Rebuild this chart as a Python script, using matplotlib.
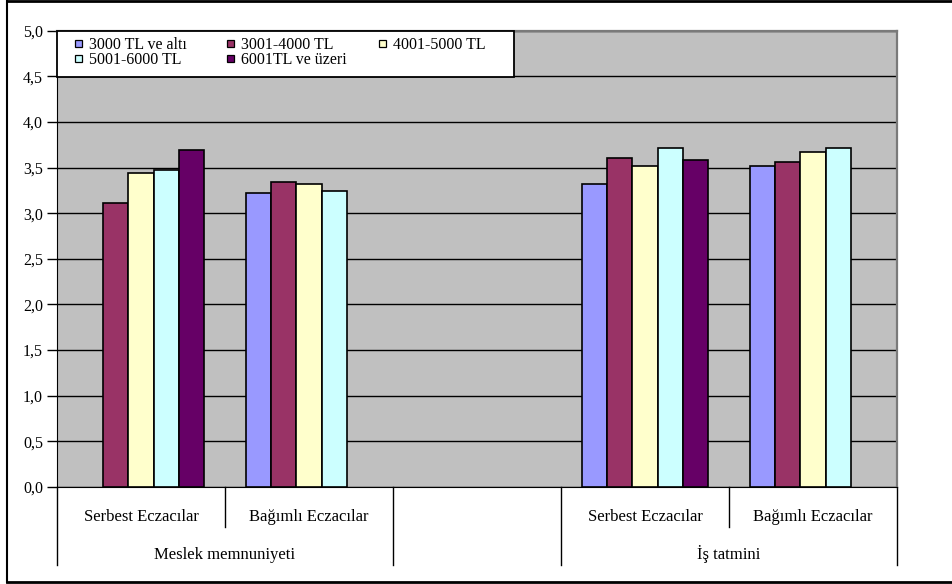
import numpy as np
import matplotlib
matplotlib.use("Agg")
import matplotlib.pyplot as plt
from matplotlib.lines import Line2D
from matplotlib.patches import Rectangle

plt.rcParams['font.family'] = ['Liberation Serif', 'DejaVu Serif']

categories = ["Serbest Eczacılar", "Bağımlı Eczacılar", "", "Serbest Eczacılar", "Bağımlı Eczacılar"]
groups = ["Meslek memnuniyeti", "", "İş tatmini"]
series_names = ["3000 TL ve altı", "3001-4000 TL", "4001-5000 TL", "5001-6000 TL", "6001TL ve üzeri"]
colors = ["#9999FF", "#993366", "#FFFFCC", "#CCFFFF", "#660066"]

s_3000 = [np.nan, 3.22, np.nan, 3.32, 3.52]
s_3001 = [3.11, 3.34, np.nan, 3.61, 3.56]
s_4001 = [3.44, 3.32, np.nan, 3.52, 3.67]
s_5001 = [3.47, 3.24, np.nan, 3.72, 3.71]
s_6001 = [3.69, np.nan, np.nan, 3.58, np.nan]
series = [s_3000, s_3001, s_4001, s_5001, s_6001]

yticks = np.arange(0, 5.01, 0.5)

W, H = 952, 584
fig = plt.figure(figsize=(W / 100, H / 100), dpi=100)
L, R, B, T = 57, 897, 487, 30.7
ax = fig.add_axes([L / W, 1 - B / H, (R - L) / W, (B - T) / H])
ax.set_facecolor("#C0C0C0")

def fx(px):
    return px / W

def fy(py):
    return 1 - py / H

x = np.arange(len(categories))
bw = 0.149
for i, (vals, c, name) in enumerate(zip(series, colors, series_names)):
    ax.bar(x + (i - 2) * bw, vals, width=bw, color=c, edgecolor="black",
           linewidth=1.2, label=name, zorder=3)

ax.set_xlim(-0.5, len(categories) - 0.5)
ax.set_ylim(0, 5)
ax.set_yticks(yticks)
ax.set_yticklabels([f"{v:.1f}".replace(".", ",") for v in yticks], fontsize=11.5)
ax.yaxis.grid(True, color="black", linewidth=1.0, zorder=1)
ax.set_axisbelow(True)
ax.tick_params(axis="y", direction="out", length=7, width=1, pad=3)
ax.set_xticks([])
for s in ["top", "right"]:
    ax.spines[s].set_color("#7a7a7a")
    ax.spines[s].set_linewidth(1.6)
ax.spines["left"].set_color("black")
ax.spines["bottom"].set_color("black")

# category separators and labels
trans = ax.get_xaxis_transform()

def ax_y(pix):
    return (B - pix) / (B - T)

for xb in [0.5, 3.5]:
    ax.add_line(Line2D([xb, xb], [0, ax_y(527)], transform=trans, color="black", lw=1, clip_on=False))
for xb in [-0.5, 1.5, 2.5, 4.5]:
    ax.add_line(Line2D([xb, xb], [0, ax_y(565)], transform=trans, color="black", lw=1, clip_on=False))
for xi, lab in zip(x, categories):
    ax.text(xi, ax_y(521), lab, transform=trans, ha="center", va="baseline", fontsize=12)
group_pos = [0.5, 2.0, 3.5]
for gx, g in zip(group_pos, groups):
    ax.text(gx, ax_y(559), g, transform=trans, ha="center", va="baseline", fontsize=12)

# legend drawn row-wise like the original
ax.add_patch(Rectangle((fx(57), fy(77)), fx(514) - fx(57), fy(30.7) - fy(77),
                       transform=fig.transFigure, facecolor="white", edgecolor="black",
                       linewidth=1.3, zorder=6, clip_on=False))
col_x = [75, 227, 379]
row_base = [49, 64.5]
msz = 6.5
for k, (name, c) in enumerate(zip(series_names, colors)):
    r, cc = divmod(k, 3)
    mx, by = col_x[cc], row_base[r]
    ax.add_patch(Rectangle((fx(mx), fy(by - 2.5)), msz / W, msz / H,
                           transform=fig.transFigure, facecolor=c, edgecolor="black",
                           linewidth=0.9, zorder=7, clip_on=False))
    ax.text(fx(mx + 14), fy(by), name, transform=fig.transFigure, ha="left",
            va="baseline", fontsize=11.5, zorder=8)

# outer frame (left, top, bottom)
fig.add_artist(Line2D([fx(7), fx(7)], [fy(1), fy(582)], color="black", lw=1.5))
fig.add_artist(Line2D([fx(7), 1.0], [fy(1), fy(1)], color="black", lw=2))
fig.add_artist(Line2D([fx(7), 1.0], [fy(582), fy(582)], color="black", lw=2))

fig.savefig("out.png", dpi=100)
